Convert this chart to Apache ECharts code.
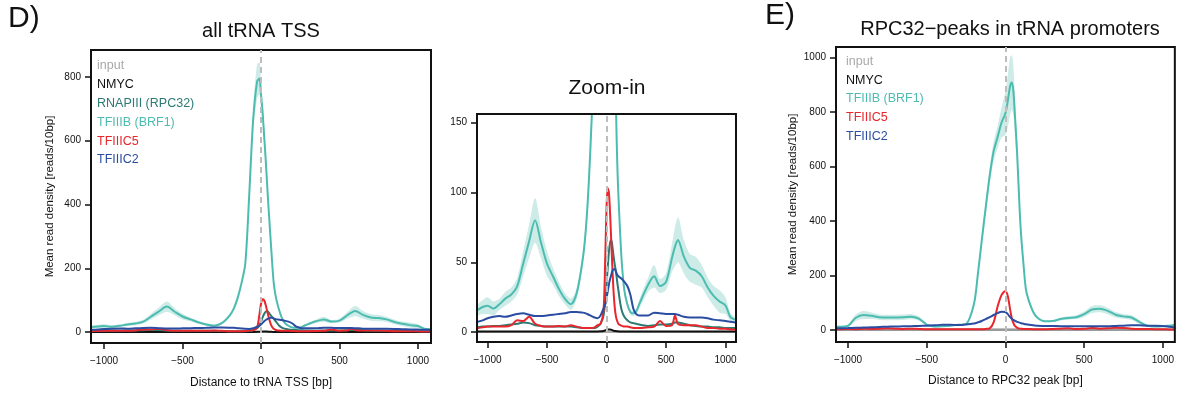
<!DOCTYPE html>
<html><head><meta charset="utf-8">
<script src="https://cdn.jsdelivr.net/npm/echarts@6/dist/echarts.min.js"></script>
<style>html,body{margin:0;padding:0;background:#fff}#c{width:1177px;height:394px}</style>
</head><body><div id="c"></div>
<script>
const FONT = '"Liberation Sans", Arial, Helvetica, sans-serif';

// ---------- Panel D / Zoom-in: all tRNA TSS ----------
const posD = [-1080,-1040,-1000,-950,-900,-850,-800,-750,-700,-650,-600,-550,-500,-450,-400,-350,-300,-250,-200,-175,-150,-125,-100,-75,-50,-25,-10,
  0,10,20,30,40,50,60,70,80,90,100,
  115,130,150,175,200,225,250,275,300,
  350,400,450,500,550,575,600,650,700,750,800,850,900,950,1000,1040,1080];
const inputD = [0.2,0.2,0.2,0.2,0.2,0.2,0.2,0.2,0.2,0.2,0.2,0.2,0.2,0.2,0.2,0.2,0.2,0.2,0.2,0.2,0.2,0.2,0.2,0.2,0.2,0.2,0.2,
  0.2,0.2,0.2,0.2,0.2,0.2,0.2,0.2,0.2,0.2,0.2,
  0.2,0.2,0.2,0.2,0.2,0.2,0.2,0.2,0.2,
  0.2,0.2,0.2,0.2,0.2,0.2,0.2,0.2,0.2,0.2,0.2,0.2,0.2,0.2,0.2,0.2,0.2];
const nmycD = [0.5,0.5,0.5,0.5,0.5,0.5,0.5,0.5,0.5,0.5,0.5,0.5,0.5,0.5,0.5,0.5,0.5,0.5,0.5,0.5,0.5,0.5,0.5,0.5,0.6,0.9,1.3,
  1.7,2,2,1.9,1.7,1.4,1.1,0.9,0.8,0.7,0.6,
  0.5,0.5,0.5,0.5,0.5,0.5,0.5,0.5,0.5,
  0.5,0.5,0.5,0.5,0.5,0.5,0.5,0.5,0.5,0.5,0.5,0.5,0.5,0.5,0.5,0.5,0.5];
const rpc32D = [3.5,4,4,4.5,4.5,5,5.5,6,7,6.5,5,4.5,4,4,4,4,4,3.5,3,3,3,3,3,4,6,12,22,
  33,46,57,64,66,61,54,48,43,36,30,
  21,15,11,8.5,7,6.5,6,5.5,5,
  4.5,5,5.5,5.5,6,7,7,6,5,4.5,4,4,3.5,3.5,3,3,3];
const brf1D = [16,18,19,17,20,24,27,33,49,65,80,64,49,40,31,24,20,28,52,72,105,152,215,430,665,785,795,
  745,690,615,540,455,375,300,225,160,122,98,
  70,48,30,20,14.5,13.5,15,20,25,
  34,40,33,36,53,61,66,54,46,44,40,32,26,22,19,11,9];
const brf1ErrD = [4,5,6,5,4,5,5,6,9,12,16,11,9,6,5,4,4,4,5,6,8,10,15,25,35,55,50,
  40,30,25,20,15,12,10,8,7,6,5,
  4,3,3,2,2,2,2,3,4,
  5,8,5,6,10,14,16,12,10,10,8,7,7,8,6,3,2];
const tfiiic5D = [3,3.5,4,4,4,4,5,8.5,8,11,6,4.5,4,4,4.5,4,5,4,3,3,3,3,3.5,5,6,15,55,
  88,103,100,85,65,45,28,17,11,8,6,
  5,4.5,4,4,3.5,3,3,3,3,
  3.5,4,8,4.5,5,12,6,5,5,5,4,3,3,2.5,2.5,2,2];
const tfiiic2D = [7.5,8.5,10,11,11.5,11,12,13,13.5,12.5,11.5,11.5,12,12.5,13,13.5,14.5,14.5,14,13.5,12.5,11.5,10.5,10,12,17,20,
  24,29,34,38,41,44,45,45,43,41,40,
  39,38,36,33,27,17,13,12,12,
  12,14,13.5,13,13,13,12.5,11,10.5,10.5,10.5,10,9,8.5,8,7.5,7];

// ---------- Panel E: RPC32-peaks in tRNA promoters ----------
const posE = [-1076,-1040,-1000,-950,-900,-850,-800,-750,-700,-650,-600,-550,-500,-450,-400,-350,-300,-250,-200,-175,-150,-125,-100,-75,-50,-25,
  0,15,30,40,50,60,75,90,100,115,130,150,175,200,
  250,300,350,400,450,500,550,600,650,700,750,800,850,900,950,1000,1040,1076];
const inputE = [0.3,0.3,0.3,0.3,0.3,0.3,0.3,0.3,0.3,0.3,0.3,0.3,0.3,0.3,0.3,0.3,0.3,0.3,0.3,0.3,0.3,0.3,0.3,0.3,0.3,0.3,
  0.3,0.3,0.3,0.3,0.3,0.3,0.3,0.3,0.3,0.3,0.3,0.3,0.3,0.3,
  0.3,0.3,0.3,0.3,0.3,0.3,0.3,0.3,0.3,0.3,0.3,0.3,0.3,0.3,0.3,0.3,0.3,0.3];
const nmycE = [0.5,0.5,0.5,0.5,0.5,0.5,0.5,0.5,0.5,0.5,0.5,0.5,0.5,0.5,0.5,0.5,0.5,0.5,0.5,0.5,0.5,0.5,0.5,0.5,0.5,0.5,
  0.6,0.6,0.6,0.5,0.5,0.5,0.5,0.5,0.5,0.5,0.5,0.5,0.5,0.5,
  0.5,0.5,0.5,0.5,0.5,0.5,0.5,0.5,0.5,0.5,0.5,0.5,0.5,0.5,0.5,0.5,0.5,0.5];
const brf1E = [12,12,15,45,55,52,47,46,46,47,49,42,20,13,14,16,19,22,95,205,330,450,565,655,707,760,
  795,840,895,908,880,790,640,445,345,240,150,105,68,47,
  32,33,40,44,47,58,75,78,70,56,50,46,30,16,13,14,16,18];
const brf1ErrE = [3,3,5,12,15,12,10,10,10,10,10,8,4,3,3,3,3,4,8,12,20,25,30,35,40,55,
  80,95,105,100,90,70,50,35,25,18,12,8,5,4,
  3,4,5,6,7,10,13,13,12,10,9,9,7,4,3,3,3,3];
const tfiiic5E = [3,3,4,3,5,4,5,6,5,4,5,4,3,3,3,3,3,3,3,3,3,4,6,28,85,128,
  143,125,75,45,26,15,8,5,4.5,4,4,3.5,3,3,
  3,4,5,6,4,5,7,5,6,8,7,5,4,4,3,3,2,2];
const tfiiic2E = [6,6.5,7,8,9,10,11,12,13,13.5,14,15,16,17,19,19,18,20,24,28,33,40,47,55,62,67,
  66,58,47,41,37,34,30,27,25,23,21,19,17,16,
  15,15,14,14,14,14,14,14,14,15,16,17,17,16,16,15,12,9];

// ---------- ticks and labels ----------
const xTicks = [-1000,-500,0,500,1000];
const yTicksD = [0,200,400,600,800];
const yTicksZoom = [0,50,100,150];
const yTicksE = [0,200,400,600,800,1000];
const legendD = ['input','NMYC','RNAPIII (RPC32)','TFIIIB (BRF1)','TFIIIC5','TFIIIC2'];
const legendE = ['input','NMYC','TFIIIB (BRF1)','TFIIIC5','TFIIIC2'];

const COL = {
  input:'#a9a9a9', nmyc:'#111111', rpc32:'#2c7a73', brf1:'#4dbcb0',
  c5:'#e8262b', c2:'#2b4da1', band:'#cdebe7'
};
const legendColD = [COL.input, COL.nmyc, COL.rpc32, COL.brf1, COL.c5, COL.c2];
const legendColE = [COL.input, COL.nmyc, COL.brf1, COL.c5, COL.c2];

function pairs(xs, ys){ return xs.map((x,i)=>[x, ys[i]]); }
const minus = v => String(v).replace('-', '\u2212');

function xAxisCfg(gi, min, max, name, gap){
  return {
    type:'value', gridIndex:gi, min:min, max:max,
    splitLine:{show:false}, axisLine:{show:false, onZero:false},
    axisTick:{show:true, customValues:xTicks, length:6, lineStyle:{color:'#111', width:1.5}},
    axisLabel:{customValues:xTicks, formatter:minus, fontSize:10, color:'#111', fontFamily:FONT, margin:13},
    name:name, nameLocation:'middle', nameGap:gap,
    nameTextStyle:{fontSize:12, color:'#111', fontFamily:FONT}
  };
}
function yAxisCfg(gi, min, max, ticks, name, gap){
  return {
    type:'value', gridIndex:gi, min:min, max:max,
    splitLine:{show:false}, axisLine:{show:false, onZero:false},
    axisTick:{show:true, customValues:ticks, length:6, lineStyle:{color:'#111', width:1.5}},
    axisLabel:{customValues:ticks, formatter:minus, fontSize:10, color:'#111', fontFamily:FONT, margin:10},
    name:name, nameLocation:'middle', nameGap:gap, nameRotate:90,
    nameTextStyle:{fontSize:11.5, color:'#111', fontFamily:FONT}
  };
}

function lineS(gi, xs, ys, color, extra){
  return Object.assign({
    type:'line', xAxisIndex:gi, yAxisIndex:gi, data:pairs(xs, ys),
    symbol:'none', smooth:0.3, silent:true, clip:true,
    lineStyle:{color:color, width:2}, z:3
  }, extra||{});
}
// confidence band: upper bound filled with band colour, lower bound filled white on top
function bandS(gi, xs, ys, err){
  const upper = ys.map((v,i)=>v+err[i]);
  const lower = ys.map((v,i)=>v-err[i]);
  return [
    {type:'line', xAxisIndex:gi, yAxisIndex:gi, data:pairs(xs, upper),
     symbol:'none', smooth:0.3, silent:true, clip:true, lineStyle:{width:0, opacity:0},
     areaStyle:{color:COL.band, opacity:1}, z:1},
    {type:'line', xAxisIndex:gi, yAxisIndex:gi, data:pairs(xs, lower),
     symbol:'none', smooth:0.3, silent:true, clip:true, lineStyle:{width:0, opacity:0},
     areaStyle:{color:'#ffffff', opacity:1}, z:2}
  ];
}
const vline = {
  silent:true, symbol:['none','none'], label:{show:false},
  lineStyle:{type:[6,4], color:'#bdbdbd', width:2}, data:[{xAxis:0}], animation:false
};

function panelD(gi){
  return [
    ...bandS(gi, posD, brf1D, brf1ErrD),
    lineS(gi, posD, inputD, COL.input, {markLine:vline}),
    lineS(gi, posD, nmycD, COL.nmyc),
    lineS(gi, posD, rpc32D, COL.rpc32),
    lineS(gi, posD, brf1D, COL.brf1),
    lineS(gi, posD, tfiiic5D, COL.c5),
    lineS(gi, posD, tfiiic2D, COL.c2)
  ];
}
function panelE(gi){
  return [
    ...bandS(gi, posE, brf1E, brf1ErrE),
    lineS(gi, posE, nmycE, COL.nmyc),
    lineS(gi, posE, inputE, '#999999', {markLine:vline}),
    lineS(gi, posE, brf1E, COL.brf1),
    lineS(gi, posE, tfiiic5E, COL.c5),
    lineS(gi, posE, tfiiic2E, COL.c2)
  ];
}

function txt(x, y, text, size, color, align){
  return {type:'text', x:x, y:y, silent:true, z:100,
    style:{text:text, fill:color||'#111', font:size+'px '+FONT, align:align||'left', verticalAlign:'middle'}};
}
const legendYD = [66,85,104,123,141.5,160];
const legendYE = [62,81,99,118,137];

const graphics = [
  txt(8, 19, 'D)', 30, '#111'),
  txt(261, 31, 'all tRNA TSS', 20, '#111', 'center'),
  txt(607, 88, 'Zoom-in', 21, '#111', 'center'),
  txt(765, 16, 'E)', 30, '#111'),
  txt(1010, 29, 'RPC32\u2212peaks in tRNA promoters', 20, '#111', 'center'),
  ...legendD.map((t,i)=>txt(97, legendYD[i], t, 12.5, legendColD[i])),
  ...legendE.map((t,i)=>txt(846, legendYE[i], t, 12.5, legendColE[i]))
];

const gridStyle = {show:true, borderColor:'#111', borderWidth:2, backgroundColor:'transparent', containLabel:false, z:5};
const option = {
  animation:false,
  backgroundColor:'#fff',
  grid:[
    Object.assign({left:91, top:50, width:340, height:294}, gridStyle),
    Object.assign({left:477, top:114, width:259, height:228}, gridStyle),
    Object.assign({left:836, top:47, width:339, height:295}, gridStyle)
  ],
  xAxis:[
    xAxisCfg(0, -1083, 1083, 'Distance to tRNA TSS [bp]', 34),
    xAxisCfg(1, -1088, 1088, '', 30),
    xAxisCfg(2, -1076, 1076, 'Distance to RPC32 peak [bp]', 33)
  ],
  yAxis:[
    yAxisCfg(0, -34, 884, yTicksD, 'Mean read density [reads/10bp]', 35),
    yAxisCfg(1, -7, 156, yTicksZoom, '', 30),
    yAxisCfg(2, -44, 1038, yTicksE, 'Mean read density [reads/10bp]', 37)
  ],
  series:[...panelD(0), ...panelD(1), ...panelE(2)],
  graphic:graphics
};
const chart = echarts.init(document.getElementById('c'), null, {renderer:'canvas'});
chart.setOption(option);
</script></body></html>
